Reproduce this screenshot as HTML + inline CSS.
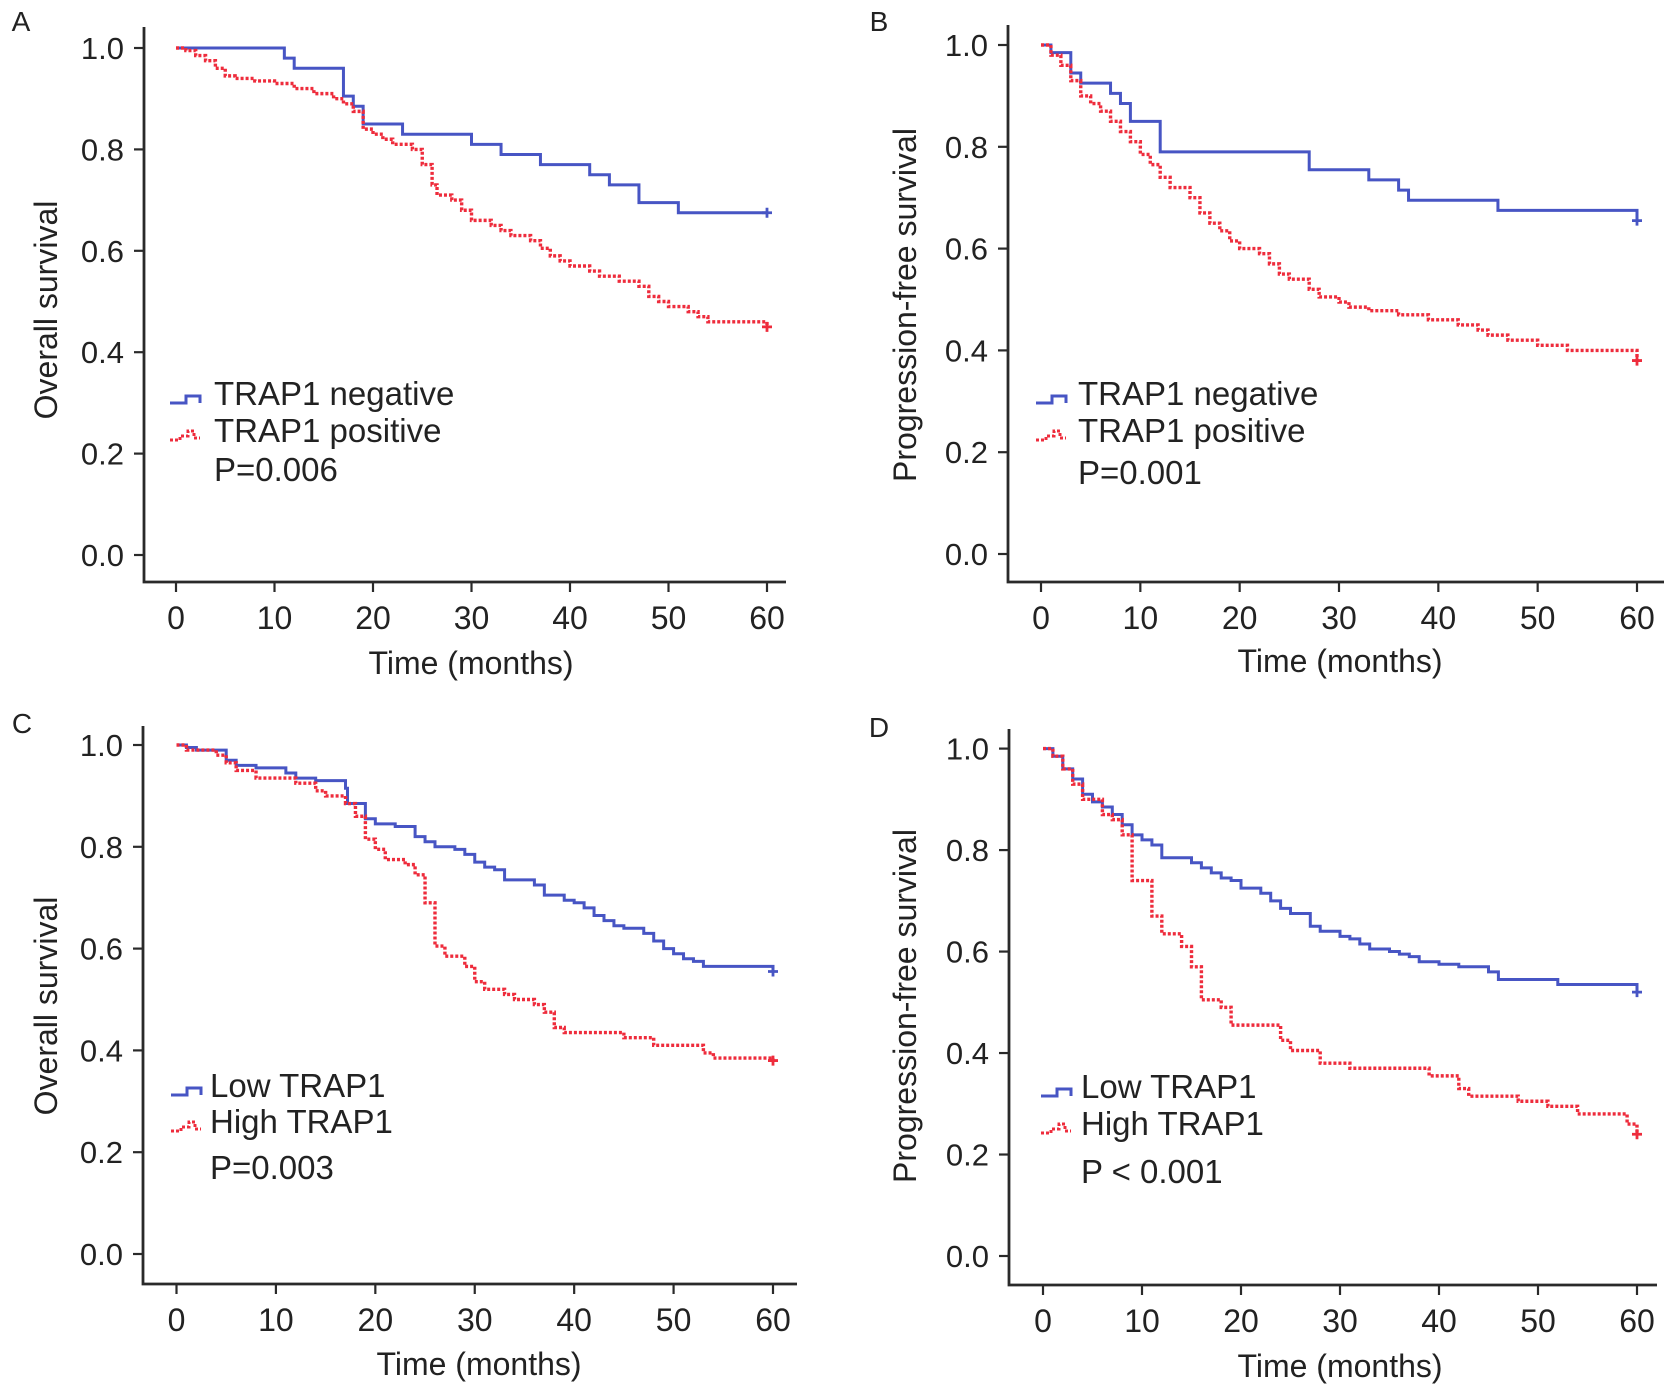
<!DOCTYPE html>
<html><head><meta charset="utf-8">
<style>
html,body{margin:0;padding:0;background:#fff;}
svg{display:block;font-family:"Liberation Sans",Arial,sans-serif;}
</style></head>
<body>
<svg id="fig" width="1677" height="1396" viewBox="0 0 1677 1396" xmlns="http://www.w3.org/2000/svg"></svg>
<script>
// ---- data (time in months, survival probability after that time) ----
const xTicks = [0,10,20,30,40,50,60];
const yTicks = [0.0,0.2,0.4,0.6,0.8,1.0];
const yTickLabels = ["0.0","0.2","0.4","0.6","0.8","1.0"];

const aNegTimes = [0,11,12,17,18,19,23,30,33,37,42,44,47,51,60];
const aNegSurv  = [1,0.98,0.96,0.905,0.885,0.85,0.83,0.81,0.79,0.77,0.75,0.73,0.695,0.675,0.675];
const aPosTimes = [0,1,2,3,4,5,6,8,10,12,14,16,17,18,19,20,21,22,24,25,26,26.5,28,29,30,32,33,34,36,37,38,39,40,42,43,45,47,48,49,50,52,53,54,60];
const aPosSurv  = [1,0.995,0.985,0.975,0.96,0.945,0.94,0.935,0.93,0.92,0.91,0.9,0.89,0.875,0.84,0.83,0.82,0.81,0.8,0.77,0.73,0.71,0.7,0.68,0.66,0.65,0.64,0.63,0.62,0.605,0.59,0.58,0.57,0.56,0.55,0.54,0.53,0.51,0.5,0.49,0.48,0.47,0.46,0.45];

const bNegTimes = [0,1,3,4,7,8,9,12,27,33,36,37,46,60];
const bNegSurv  = [1,0.985,0.945,0.925,0.905,0.885,0.85,0.79,0.755,0.735,0.715,0.695,0.675,0.655];
const bPosTimes = [0,1,2,3,4,5,6,7,8,9,10,11,12,13,15,16,17,18,19,20,22,23,24,25,27,28,30,31,33,36,39,42,44,45,47,50,53,60];
const bPosSurv  = [1,0.98,0.96,0.93,0.9,0.885,0.87,0.85,0.83,0.81,0.785,0.765,0.74,0.72,0.7,0.67,0.65,0.635,0.615,0.6,0.59,0.57,0.55,0.54,0.52,0.505,0.495,0.485,0.478,0.47,0.46,0.45,0.44,0.43,0.42,0.41,0.40,0.38];

const cLowTimes = [0,1,2,5,6,8,11,12,14,17,17.2,19,20,22,24,25,26,28,29,30,31,32,33,36,37,39,40,41,42,43,44,45,47,48,49,50,51,52,53,60];
const cLowSurv  = [1,0.995,0.99,0.97,0.96,0.955,0.945,0.935,0.93,0.915,0.885,0.855,0.845,0.84,0.82,0.81,0.8,0.795,0.785,0.77,0.76,0.755,0.735,0.725,0.705,0.695,0.69,0.68,0.665,0.655,0.645,0.64,0.63,0.615,0.6,0.59,0.58,0.575,0.565,0.555];
const cHighTimes = [0,1,4,5,6,8,12,14,15,17,18,19,20,21,23,24,25,26,27,29,30,31,33,34,36,37,38,39,45,48,53,54,60];
const cHighSurv  = [1,0.99,0.98,0.965,0.95,0.935,0.925,0.91,0.9,0.885,0.86,0.815,0.795,0.775,0.765,0.745,0.69,0.605,0.585,0.565,0.535,0.52,0.51,0.5,0.49,0.475,0.445,0.435,0.425,0.41,0.395,0.385,0.38];

const dLowTimes = [0,1,2,3,4,5,6,7,8,9,10,11,12,15,16,17,18,19,20,22,23,24,25,27,28,30,31,32,33,35,36,37,38,40,42,45,46,52,60];
const dLowSurv  = [1,0.985,0.96,0.94,0.91,0.895,0.885,0.87,0.85,0.83,0.82,0.81,0.785,0.775,0.765,0.755,0.745,0.74,0.725,0.715,0.7,0.685,0.675,0.65,0.64,0.63,0.625,0.615,0.605,0.6,0.595,0.59,0.58,0.575,0.57,0.56,0.545,0.535,0.52];
const dHighTimes = [0,1,2,3,4,6,7,8,9,11,12,14,15,16,18,19,24,25,28,31,39,42,43,48,51,54,59,60];
const dHighSurv  = [1,0.985,0.96,0.93,0.9,0.87,0.86,0.83,0.74,0.67,0.635,0.61,0.57,0.505,0.49,0.455,0.425,0.405,0.38,0.37,0.355,0.33,0.315,0.305,0.295,0.28,0.26,0.24];

// ---- layout ----
const panels = [
 {id:"a", letter:"A", lx:21, ly:31, ax:144, x0:176, x60:767, y1:48, y0:555, xa:582, top:27, right:786,
  ytitle:"Overall survival", ytx:57, yty:310, xtx:471, xty:674,
  leg:{ix:170, tx:214, b1:405, b2:442, bp:481}, names:["TRAP1 negative","TRAP1 positive"], p:"P=0.006",
  s1:[aNegTimes,aNegSurv], s2:[aPosTimes,aPosSurv]},
 {id:"b", letter:"B", lx:879, ly:31, ax:1008, x0:1041, x60:1637, y1:45, y0:554, xa:582, top:25, right:1664,
  ytitle:"Progression-free survival", ytx:916, yty:305, xtx:1340, xty:672,
  leg:{ix:1036, tx:1078, b1:405, b2:442, bp:484}, names:["TRAP1 negative","TRAP1 positive"], p:"P=0.001",
  s1:[bNegTimes,bNegSurv], s2:[bPosTimes,bPosSurv]},
 {id:"c", letter:"C", lx:22, ly:733, ax:143, x0:176.5, x60:773, y1:745, y0:1254, xa:1284, top:726, right:797,
  ytitle:"Overall survival", ytx:57, yty:1006, xtx:479, xty:1375,
  leg:{ix:171, tx:210, b1:1097, b2:1133, bp:1179}, names:["Low TRAP1","High TRAP1"], p:"P=0.003",
  s1:[cLowTimes,cLowSurv], s2:[cHighTimes,cHighSurv]},
 {id:"d", letter:"D", lx:879, ly:737, ax:1009, x0:1043, x60:1637, y1:748.6, y0:1256, xa:1285, top:729, right:1657,
  ytitle:"Progression-free survival", ytx:916, yty:1006, xtx:1340, xty:1377,
  leg:{ix:1041, tx:1081, b1:1098, b2:1135, bp:1183}, names:["Low TRAP1","High TRAP1"], p:"P < 0.001",
  s1:[dLowTimes,dLowSurv], s2:[dHighTimes,dHighSurv]}
];
const NS="http://www.w3.org/2000/svg";
const svg=document.getElementById('fig');
function mk(tag,attrs,parent,text){const e=document.createElementNS(NS,tag);for(const k in attrs)e.setAttribute(k,attrs[k]);if(text!==undefined)e.textContent=text;parent.appendChild(e);return e;}
const BLUE="#4755c4", RED="#ee2c3c", AX="#2a2a2a";

panels.forEach(P=>{
  const xs=t=>P.x0+(P.x60-P.x0)*t/60;
  const ys=v=>P.y0+(P.y1-P.y0)*v;
  const g=mk('g',{},svg);
  
  
  const L=mk('text',{x:P.lx,y:P.ly,'font-size':28,'text-anchor':'middle',fill:'#222'},g,P.letter);
  
  
  const axes=mk('path',{d:`M${P.ax},${P.top}V${P.xa}H${P.right}`,fill:'none',stroke:AX,'stroke-width':2.8},g);
  
  
  yTicks.forEach((v,i)=>{
    const y=ys(v);
    const tk=mk('line',{x1:P.ax-10,x2:P.ax,y1:y,y2:y,stroke:AX,'stroke-width':2.2},g);
    
    
    const tl=mk('text',{x:P.ax-20,y:y+11,'font-size':31,'text-anchor':'end',fill:'#222'},g,yTickLabels[i]);
    
    
  });
  xTicks.forEach(t=>{
    const x=xs(t);
    const tk=mk('line',{x1:x,x2:x,y1:P.xa,y2:P.xa+10,stroke:AX,'stroke-width':2.2},g);
    
    
    const tl=mk('text',{x:x,y:P.xa+47,'font-size':32,'text-anchor':'middle',fill:'#222'},g,String(t));
    
    
  });
  const xt=mk('text',{x:P.xtx,y:P.xty,'font-size':32,'text-anchor':'middle',fill:'#222'},g,'Time (months)');
  
  
  const yt=mk('text',{x:P.ytx,y:P.yty,'font-size':32,'text-anchor':'middle',fill:'#222',transform:`rotate(-90 ${P.ytx} ${P.yty})`},g,P.ytitle);
  
  

  function stepPath(T,S){
    let d=`M${xs(T[0])},${ys(S[0])}`;
    for(let i=1;i<T.length;i++){d+=`H${xs(T[i])}V${ys(S[i])}`;}
    return d;
  }
  const p1=mk('path',{d:stepPath(P.s1[0],P.s1[1]),fill:'none',stroke:BLUE,'stroke-width':3},g);
  
  
  const p2=mk('path',{d:stepPath(P.s2[0],P.s2[1]),fill:'none',stroke:RED,'stroke-width':3.4,'stroke-dasharray':'3 2'},g);
  
  
  [[P.s1,BLUE],[P.s2,RED]].forEach(([s,c])=>{
    const x=xs(s[0][s[0].length-1]), y=ys(s[1][s[1].length-1]);
    const cm=mk('path',{d:`M${x-5},${y}H${x+5}M${x},${y-5}V${y+5}`,stroke:c,'stroke-width':2.8},g);
    
    
  });
  const lg=P.leg;
  const i1=mk('path',{d:`M${lg.ix},${lg.b1-2}H${lg.ix+16}V${lg.b1-9}H${lg.ix+30}V${lg.b1-2}`,fill:'none',stroke:BLUE,'stroke-width':3},g);
  
  
  const i2=mk('path',{d:`M${lg.ix},${lg.b2-2}H${lg.ix+10}V${lg.b2-6}H${lg.ix+18}V${lg.b2-11}H${lg.ix+24}V${lg.b2-4}H${lg.ix+30}`,fill:'none',stroke:RED,'stroke-width':3,'stroke-dasharray':'3 2'},g);
  
  
  const t1=mk('text',{x:lg.tx,y:lg.b1,'font-size':33,fill:'#222'},g,P.names[0]);
  
  
  const t2=mk('text',{x:lg.tx,y:lg.b2,'font-size':33,fill:'#222'},g,P.names[1]);
  
  
  const pv=mk('text',{x:lg.tx,y:lg.bp,'font-size':33,fill:'#222'},g,P.p);
  
  
});
</script>
</body></html>
